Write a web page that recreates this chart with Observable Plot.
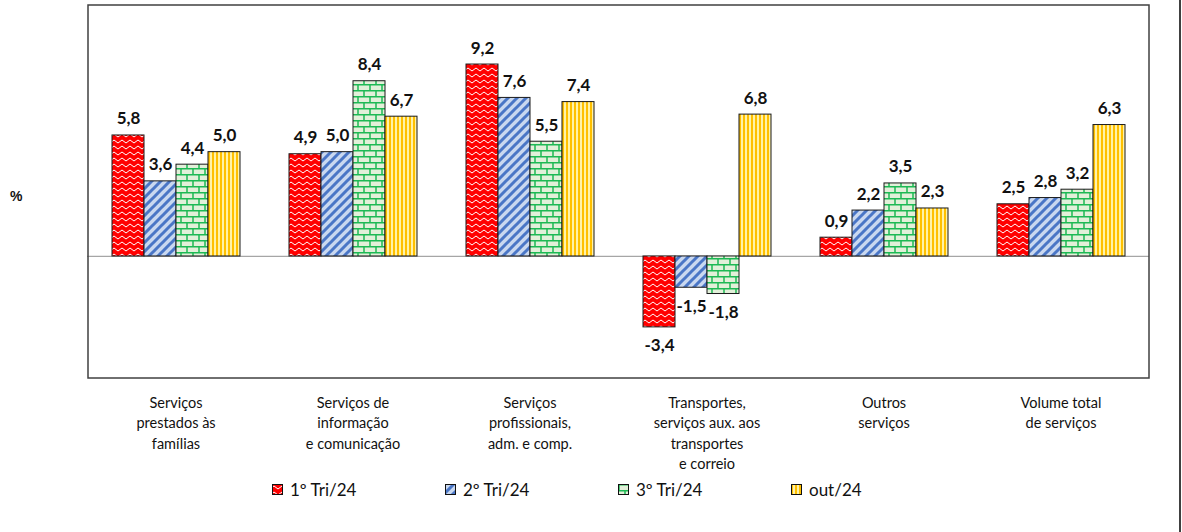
<!DOCTYPE html>
<html>
<head>
<meta charset="utf-8">
<script src="https://cdn.jsdelivr.net/npm/d3@7"></script>
<script src="https://cdn.jsdelivr.net/npm/@observablehq/plot@0.6"></script>
<style>
  body { margin: 0; background: #fff; }
  #wrap { position: relative; width: 1182px; height: 532px; font-family: Lato, "Open Sans", sans-serif; }
  #edge { position: absolute; left: 1179px; top: 0; width: 2px; height: 532px; background: #404040; }
  #pct { position: absolute; left: 10px; top: 188px; font: bold 14px "Liberation Sans", Arial, sans-serif; color: #111; }
  #legend { position: absolute; left: 272px; top: 479px; display: flex; font-size: 17px; color: #111; }
  #legend .item { width: 173px; display: flex; align-items: center; }
  #legend svg { margin-right: 7px; }
</style>
</head>
<body>
<div id="wrap">
  <div id="chart"></div>
  <div id="pct">%</div>
  <div id="legend"></div>
  <div id="edge"></div>
</div>
<script>
const categories = [
  "Serviços\nprestados às\nfamílias",
  "Serviços de\ninformação\ne comunicação",
  "Serviços\nprofissionais,\nadm. e comp.",
  "Transportes,\nserviços aux. aos\ntransportes\ne correio",
  "Outros\nserviços",
  "Volume total\nde serviços"
];
const series = ["1º Tri/24", "2º Tri/24", "3º Tri/24", "out/24"];
const tri1 = [5.8, 4.9, 9.2, -3.4, 0.9, 2.5];
const tri2 = [3.6, 5.0, 7.6, -1.5, 2.2, 2.8];
const tri3 = [4.4, 8.4, 5.5, -1.8, 3.5, 3.2];
const out24 = [5.0, 6.7, 7.4, 6.8, 2.3, 6.3];
const yDomain = [-5.85, 12.03];

const patternIds = ["pRed", "pBlue", "pGreen", "pYellow"];
const values = [tri1, tri2, tri3, out24];
const data = [];
series.forEach((s, si) => categories.forEach((c, ci) => data.push({cat: c, serie: s, si, value: values[si][ci]})));

const fmt = v => d3.format(".1f")(v).replace(".", ",").replace("−", "-");

const W = 1182, H = 478, mL = 87, mR = 33, mT = 5, mB = 100;

const marks = [Plot.ruleY([0], {stroke: "#a6a6a6", strokeWidth: 1.3})];
series.forEach((s, si) => {
  const d = data.filter(r => r.si === si);
  marks.push(Plot.barY(d, {fx: "cat", x: "serie", y: "value", fill: `url(#${patternIds[si]})`, stroke: "#1a1a1a", strokeWidth: 1, insetLeft: 0, insetRight: 0}));
});
marks.push(Plot.text(data.filter(d => d.value >= 0), {fx: "cat", x: "serie", y: "value", text: d => fmt(d.value), lineAnchor: "bottom", dy: -11, fontWeight: "bold", fontSize: 17, fill: "#111", letterSpacing: "0.6px"}));
marks.push(Plot.text(data.filter(d => d.value < 0), {fx: "cat", x: "serie", y: "value", text: d => fmt(d.value), lineAnchor: "top", dy: 12, fontWeight: "bold", fontSize: 17, fill: "#111", letterSpacing: "0.6px"}));
marks.push(Plot.text(categories, {fx: d => d, text: d => d, frameAnchor: "bottom", lineAnchor: "top", dy: 15, fontSize: 14.5, lineHeight: 1.4, fill: "#111"}));

const plot = Plot.plot({
  width: W, height: H,
  marginLeft: mL, marginRight: mR, marginTop: mT, marginBottom: mB,
  style: {fontFamily: "Lato, 'Open Sans', sans-serif", background: "#fff"},
  fx: {domain: categories, paddingInner: 0, paddingOuter: 0, axis: null},
  x: {domain: series, paddingInner: 0, paddingOuter: 0.723, axis: null},
  y: {domain: yDomain, axis: null},
  marks
});

// pattern definitions
const defs = `
<defs>
  <pattern id="pRed" patternUnits="userSpaceOnUse" width="8" height="6">
    <rect width="8" height="6" fill="#ff0000"/>
    <path d="M0 3.5 Q2 0.5 4 3.5 T8 3.5" fill="none" stroke="#ffffff" stroke-width="1"/>
  </pattern>
  <pattern id="pBlue" patternUnits="userSpaceOnUse" width="9" height="9">
    <rect width="9" height="9" fill="#c9d8f0"/>
    <path d="M-2 2 L2 -2 M0 9 L9 0 M7 11 L11 7" stroke="#4a76c6" stroke-width="3"/>
  </pattern>
  <pattern id="pGreen" patternUnits="userSpaceOnUse" width="12" height="12">
    <rect width="12" height="12" fill="#e2f0d9"/>
    <path d="M0 0.75 H12 M0 6.75 H12 M1 0 V6.75 M7 6.75 V12" fill="none" stroke="#1db954" stroke-width="1.5"/>
  </pattern>
  <pattern id="pYellow" patternUnits="userSpaceOnUse" width="4" height="4">
    <rect width="4" height="4" fill="#fff2a8"/>
    <rect width="2" height="4" fill="#ffc000"/>
  </pattern>
</defs>`;
plot.insertAdjacentHTML("afterbegin", defs);

// frame around plotting area using the plot's scales
const ys = plot.scale("y");
const yTop = Math.min(...ys.range), yBot = Math.max(...ys.range);
const ns = "http://www.w3.org/2000/svg";
const fr = document.createElementNS(ns, "rect");
fr.setAttribute("x", mL + 1); fr.setAttribute("y", yTop);
fr.setAttribute("width", W - mL - mR - 1); fr.setAttribute("height", yBot - yTop);
fr.setAttribute("fill", "none"); fr.setAttribute("stroke", "#404040"); fr.setAttribute("stroke-width", "1.5");
plot.appendChild(fr);

document.getElementById("chart").appendChild(plot);

// legend
const leg = document.getElementById("legend");
series.forEach((s, si) => {
  const item = document.createElement("div");
  item.className = "item";
  item.innerHTML = `<svg width="11" height="11"><rect x="0.5" y="0.5" width="10" height="10" fill="url(#${patternIds[si]})" stroke="#111" stroke-width="1"/></svg><span>${s}</span>`;
  leg.appendChild(item);
});
</script>
</body>
</html>
